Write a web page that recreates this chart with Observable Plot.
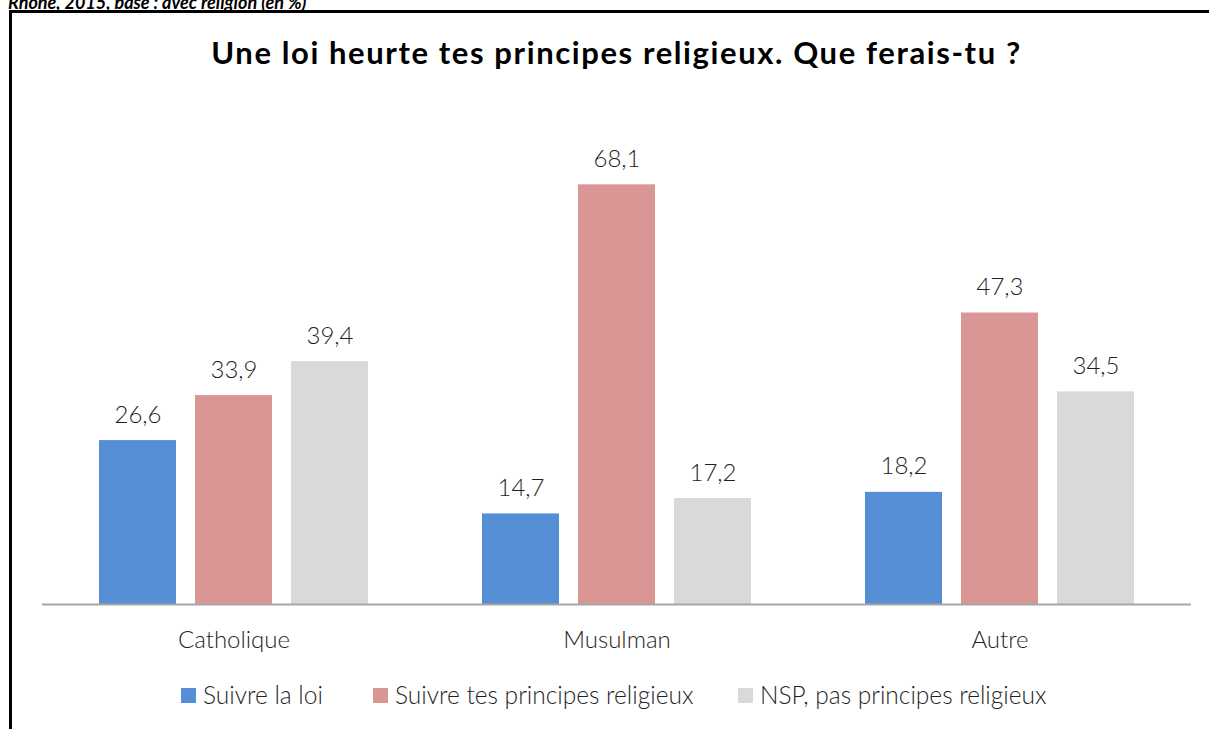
<!DOCTYPE html>
<html>
<head>
<meta charset="utf-8">
<script src="https://cdn.jsdelivr.net/npm/d3@7"></script>
<script src="https://cdn.jsdelivr.net/npm/@observablehq/plot@0.6"></script>
<style>
  html, body { margin: 0; padding: 0; background: #fff; overflow: hidden; }
  #page { position: relative; width: 1209px; height: 729px; font-family: Lato, "Open Sans", sans-serif; }
  #topnote { position: absolute; left: 8px; top: -7px; font-size: 18px; font-weight: 700; font-style: italic; color: #000; white-space: nowrap; line-height: 18px; }
  #frame { position: absolute; left: 9px; top: 10px; width: 1300px; height: 800px; border-left: 3px solid #000; border-top: 3px solid #000; box-sizing: border-box; }
  #title { position: absolute; left: 0; top: 34px; width: 1233px; text-align: center; font-size: 31px; letter-spacing: 1.6px; font-weight: 700; color: #000; white-space: nowrap; line-height: 36px; }
  #chart { position: absolute; left: 0; top: 0; }
  .leg { position: absolute; top: 680px; display: flex; align-items: center; font-size: 24.5px; font-weight: 300; color: #1f1f1f; white-space: nowrap; line-height: 30px; }
  .leg span.sw { display: inline-block; width: 15px; height: 15px; margin-right: 7px; }
</style>
</head>
<body>
<div id="page">
  <div id="topnote">Rhône, 2015, base : avec religion (en %)</div>
  <div id="frame"></div>
  <div id="chart"></div>
  <div id="title">Une loi heurte tes principes religieux. Que ferais-tu ?</div>
  <div id="legend"></div>
</div>
<script>
const categories = ["Catholique", "Musulman", "Autre"];
const series = ["Suivre la loi", "Suivre tes principes religieux", "NSP, pas principes religieux"];
const suivreLaLoi = [26.6, 14.7, 18.2];
const suivrePrincipes = [33.9, 68.1, 47.3];
const nspPasPrincipes = [39.4, 17.2, 34.5];
const colors = ["#558ED5", "#D99694", "#D9D9D9"];

const valuesBySeries = [suivreLaLoi, suivrePrincipes, nspPasPrincipes];
const data = [];
categories.forEach((c, i) => {
  series.forEach((s, j) => {
    data.push({cat: c, series: s, value: valuesBySeries[j][i]});
  });
});
const fmt = v => v.toFixed(1).replace(".", ",");

const chart = Plot.plot({
  width: 1209,
  height: 680,
  marginTop: 111,
  marginBottom: 76,
  marginLeft: 41,
  marginRight: 18,
  style: {fontFamily: "Lato, 'Open Sans', sans-serif", fontWeight: 300, background: "transparent", overflow: "visible"},
  fx: {domain: categories, padding: 0, label: null},
  x: {domain: series, paddingInner: 0.2, paddingOuter: 0.58, axis: null},
  y: {domain: [0, 80], axis: null},
  color: {domain: series, range: colors},
  marks: [
    Plot.barY(data, {fx: "cat", x: "series", y: "value", fill: "series"}),
    Plot.text(data, {fx: "cat", x: "series", y: "value", text: d => fmt(d.value), lineAnchor: "bottom", dy: -18, fontSize: 24, fill: "#1f1f1f"}),
    Plot.ruleY([0], {stroke: "#a6a6a6", strokeWidth: 2}),
    Plot.axisFx({anchor: "bottom", tickSize: 0, tickPadding: 26, fontSize: 24, label: null, color: "#1f1f1f"})
  ]
});
document.getElementById("chart").appendChild(chart);

const legendLefts = [181, 373, 738];
const legend = document.getElementById("legend");
series.forEach((s, j) => {
  const item = document.createElement("div");
  item.className = "leg";
  item.style.left = legendLefts[j] + "px";
  const sw = document.createElement("span");
  sw.className = "sw";
  sw.style.background = colors[j];
  item.appendChild(sw);
  item.appendChild(document.createTextNode(s));
  legend.appendChild(item);
});
</script>
</body>
</html>
